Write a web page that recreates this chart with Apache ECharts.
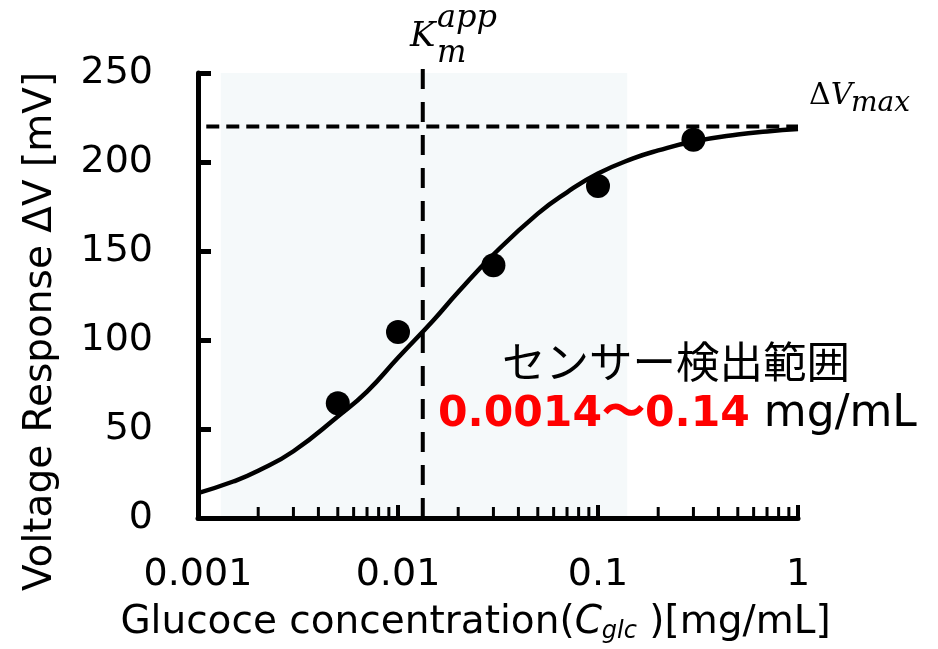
<!DOCTYPE html>
<html><head><meta charset="utf-8">
<script src="https://cdn.jsdelivr.net/npm/echarts@6/dist/echarts.min.js"></script>
<style>html,body{margin:0;padding:0;background:#fff}#c{width:938px;height:649px}</style>
</head><body><div id="c"></div>
<script>
// ---- data ----
const xTickValues = [0.001, 0.01, 0.1, 1];
const xTickLabels = ['0.001', '0.01', '0.1', '1'];
const yTickValues = [0, 50, 100, 150, 200, 250];
const measuredConc = [0.005, 0.01, 0.03, 0.1, 0.3];
const measuredResp = [64.5, 104.5, 142, 186.5, 212.5];
const fitConc = [0.001, 0.0015, 0.002, 0.003, 0.005, 0.007, 0.01, 0.015, 0.02, 0.03, 0.05, 0.07, 0.1, 0.15, 0.2, 0.3, 0.5, 0.7, 1];
const fitResp = [14, 20.5, 26.5, 37.5, 57, 71, 90, 111, 127, 148, 171, 183, 193.5, 202, 206.5, 211.5, 215.5, 217.2, 218.5];
const minorTickValues = [0.002, 0.003, 0.004, 0.005, 0.006, 0.007, 0.008, 0.009,
  0.02, 0.03, 0.04, 0.05, 0.06, 0.07, 0.08, 0.09,
  0.2, 0.3, 0.4, 0.5, 0.6, 0.7, 0.8, 0.9];
const kmConc = 0.0133;
const kmLineTop = 256;
const vmaxResp = 220;
const vmaxLineConc = [0.0011, 1];
const rangeShade = [0.0013, 0.14];
const rangeShadeTop = 251.5;
const rangeText = '0.0014〜0.14';
const rangeUnit = ' mg/mL';
const sensorText = 'センサー検出範囲';

const SANS = '"DejaVu Sans", Verdana, sans-serif';
const SERIF = '"DejaVu Serif", serif';

const chart = echarts.init(document.getElementById('c'), null, {renderer: 'canvas'});
chart.setOption({
  animation: false,
  backgroundColor: '#ffffff',
  grid: {left: 198, right: 140, top: 73, bottom: 131, containLabel: false},
  xAxis: {
    type: 'log', logBase: 10, min: xTickValues[0], max: xTickValues[xTickValues.length - 1],
    z: 5,
    axisLine: {lineStyle: {color: '#000', width: 5}},
    axisTick: {inside: true, length: 13, lineStyle: {color: '#000', width: 4}},
    axisLabel: {
      margin: 38, fontSize: 38, color: '#000', fontFamily: SANS,
      formatter: function (v) {
        const i = xTickValues.findIndex(t => Math.abs(Math.log10(t) - Math.log10(v)) < 1e-6);
        return i >= 0 ? xTickLabels[i] : '';
      }
    },
    splitLine: {show: false},
    name: 'Glucoce concentration({c|C}{s|glc} )[mg/mL]',
    nameLocation: 'middle', nameGap: 84,
    nameTextStyle: {
      fontSize: 39, fontFamily: SANS, color: '#000', padding: [0, 45, 0, 0],
      rich: {
        c: {fontSize: 39, fontFamily: SANS, fontStyle: 'italic', color: '#000'},
        s: {fontSize: 24, fontFamily: SANS, fontStyle: 'italic', color: '#000', padding: [18, 0, 0, 0]}
      }
    }
  },
  yAxis: {
    type: 'value', min: yTickValues[0], max: yTickValues[yTickValues.length - 1], interval: 50,
    z: 5,
    axisLine: {show: true, lineStyle: {color: '#000', width: 5}},
    axisTick: {show: true, inside: true, length: 13, lineStyle: {color: '#000', width: 5}},
    axisLabel: {margin: 45, fontSize: 38, color: '#000', fontFamily: SANS},
    splitLine: {show: false},
    name: 'Voltage Response ΔV [mV]',
    nameLocation: 'middle', nameGap: 138,
    nameTextStyle: {fontSize: 39, fontFamily: SANS, color: '#000', padding: [0, 72, 0, 0]}
  },
  series: [
    {
      type: 'line', name: 'range', data: [], silent: true,
      markArea: {
        silent: true, z: 1,
        itemStyle: {color: '#f5f9fa', opacity: 1},
        data: [[{xAxis: rangeShade[0], yAxis: 0}, {xAxis: rangeShade[1], yAxis: rangeShadeTop}]]
      }
    },
    {
      type: 'line', name: 'Km', z: 3, silent: true, clip: false, showSymbol: false,
      data: [[kmConc, 0], [kmConc, kmLineTop]],
      lineStyle: {color: '#000', width: 4, type: [20, 13]}
    },
    {
      type: 'line', name: 'Vmax', z: 3, silent: true, clip: false, showSymbol: false,
      data: [[vmaxLineConc[0], vmaxResp], [vmaxLineConc[1], vmaxResp]],
      lineStyle: {color: '#000', width: 4, type: [13, 7]}
    },
    {
      type: 'line', name: 'fit', z: 4, silent: true, smooth: 0.5, showSymbol: false,
      data: fitConc.map((c, i) => [c, fitResp[i]]),
      lineStyle: {color: '#000', width: 4.5}
    },
    {
      type: 'scatter', name: 'measured', z: 6, silent: true,
      symbol: 'circle', symbolSize: 24,
      itemStyle: {color: '#000', opacity: 1},
      data: measuredConc.map((c, i) => [c, measuredResp[i]])
    },
    {
      type: 'scatter', name: 'minorTicks', z: 6, silent: true, clip: false,
      symbol: 'rect', symbolSize: [3, 11], symbolOffset: [0, -5.5],
      itemStyle: {color: '#000', opacity: 1},
      data: minorTickValues.map(v => [v, 0])
    }
  ],
  graphic: [
    {type: 'text', x: 502, y: 361, z: 10, style: {text: sensorText, font: 'normal 43.5px "Noto Sans CJK JP"', fill: '#000', verticalAlign: 'middle'}},
    {type: 'text', x: 438, y: 415, z: 10, style: {
      text: '{r|' + rangeText + '}{k|' + rangeUnit + '}', verticalAlign: 'middle',
      rich: {
        r: {fontFamily: SANS, fontWeight: 'bold', fontSize: 42.5, fill: '#ff0000'},
        k: {fontFamily: SANS, fontSize: 44, fill: '#000'}
      }
    }},
    {type: 'text', x: 410, y: 37, z: 10, style: {text: 'K', font: 'italic 34px ' + SERIF, fill: '#000', verticalAlign: 'middle'}},
    {type: 'text', x: 437, y: 19, z: 10, style: {text: 'app', font: 'italic 32px ' + SERIF, fill: '#000', verticalAlign: 'middle'}},
    {type: 'text', x: 437, y: 54, z: 10, style: {text: 'm', font: 'italic 31px ' + SERIF, fill: '#000', verticalAlign: 'middle'}},
    {type: 'text', x: 809, y: 96, z: 10, style: {
      text: '{d|Δ}{v|V}', verticalAlign: 'middle',
      rich: {
        d: {fontFamily: SERIF, fontSize: 30, fill: '#000'},
        v: {fontFamily: SERIF, fontStyle: 'italic', fontSize: 30, fill: '#000'}
      }
    }},
    {type: 'text', x: 851, y: 104, z: 10, style: {text: 'max', font: 'italic 28px ' + SERIF, fill: '#000', verticalAlign: 'middle'}}
  ]
});
</script>
</body></html>
